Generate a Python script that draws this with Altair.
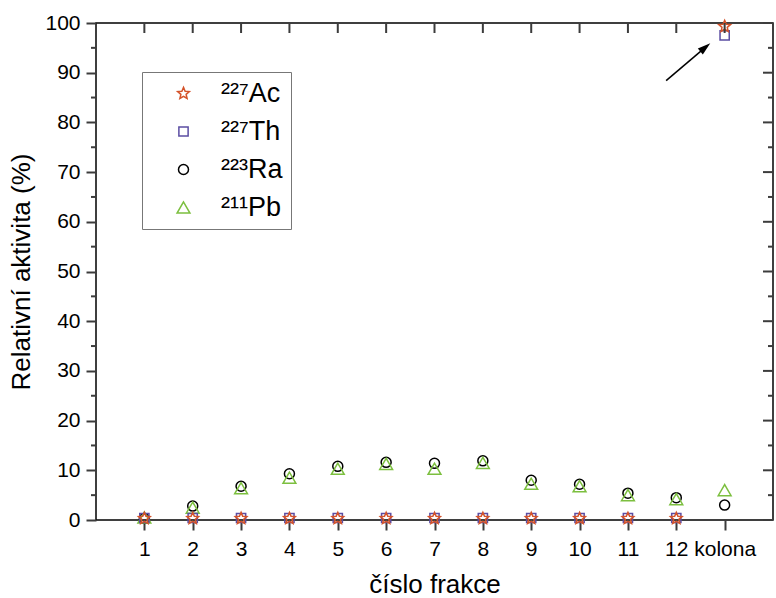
import altair as alt
import pandas as pd

# Fraction index (13 = column "kolona")
fractions = list(range(1, 14))
tick_labels = ["1", "2", "3", "4", "5", "6", "7", "8", "9", "10", "11", "12", "kolona"]

# Relative activity (%) of each nuclide per fraction
ac227 = [0.3, 0.3, 0.3, 0.3, 0.3, 0.3, 0.3, 0.3, 0.3, 0.3, 0.3, 0.3, 99.3]
th227 = [0.4, 0.4, 0.4, 0.4, 0.4, 0.4, 0.4, 0.4, 0.4, 0.4, 0.4, 0.4, 97.5]
ra223 = [0.3, 2.8, 6.8, 9.3, 10.8, 11.6, 11.4, 11.9, 8.0, 7.2, 5.4, 4.5, 3.0]
pb211 = [0.5, 2.5, 6.4, 8.5, 10.3, 11.3, 10.3, 11.5, 7.3, 6.8, 5.0, 4.2, 6.0]

nuclides = ["²²⁷Ac", "²²⁷Th", "²²³Ra", "²¹¹Pb"]
colors = ["#D4532A", "#5B4DA3", "#000000", "#7CBF3F"]
star = ("M0,-1L0.265,-0.364L0.951,-0.309L0.428,0.139L0.588,0.809"
        "L0,0.45L-0.588,0.809L-0.428,0.139L-0.951,-0.309L-0.265,-0.364Z")
shapes = [star, "square", "circle", "triangle-up"]
sizes = [150, 85, 100, 165]

# Arrow pointing at the column values
arrow_start = [11.79, 88.4]
arrow_end = [12.6, 95.1]
arrowhead = "M0,-1L0.6,1L-0.6,1Z"

major_y = list(range(0, 101, 10))
minor_y = list(range(5, 100, 10))

W, H = 677, 497
X_MAX = 14
MAJOR, MINOR = 10, 5
TICK = "#3c3c3c"
TICK_W = 2

series = {"²²³Ra": ra223, "²¹¹Pb": pb211, "²²⁷Th": th227, "²²⁷Ac": ac227}
rows = []
for name, vals in series.items():
    for f, v in zip(fractions, vals):
        rows.append({"frakce": f, "aktivita": v, "nuklid": name})
df = pd.DataFrame(rows)

arrow_df = pd.DataFrame({"x": [arrow_start[0]], "y": [arrow_start[1]],
                         "x2": [arrow_end[0]], "y2": [arrow_end[1]]})

FONT = "Liberation Sans"
xscale = alt.Scale(domain=[0, X_MAX], nice=False, zero=False)
yscale = alt.Scale(domain=[0, 100], nice=False)
label_js = "[" + ",".join("'%s'" % t for t in tick_labels) + "][datum.value - 1]"

legend = alt.Legend(
    title=None, orient="none", legendX=46, legendY=49,
    labelFont=FONT, labelFontSize=27, labelColor="black",
    strokeColor="#777777", fillColor="white", padding=8, rowPadding=10,
    symbolOffset=20, labelOffset=24, symbolStrokeWidth=1.5,
)

shape_enc = alt.Shape("nuklid:N", scale=alt.Scale(domain=nuclides, range=shapes), legend=legend)
color_enc = alt.Color("nuklid:N", scale=alt.Scale(domain=nuclides, range=colors), legend=legend)
size_enc = alt.Size("nuklid:N", scale=alt.Scale(type="ordinal", domain=nuclides, range=sizes),
                    legend=legend)

base = alt.Chart(df).mark_point(filled=False, strokeWidth=1.5, opacity=1)

# Ra and Pb first, Th and Ac drawn on top
ra_pb = base.transform_filter(
    alt.FieldOneOfPredicate(field="nuklid", oneOf=["²²³Ra", "²¹¹Pb"])
).encode(
    x=alt.X("frakce:Q", scale=xscale,
            axis=alt.Axis(values=fractions, labelExpr=label_js, title="číslo frakce",
                          ticks=True, tickSize=MAJOR, tickColor=TICK, tickWidth=TICK_W,
                          labelPadding=8, titlePadding=12)),
    y=alt.Y("aktivita:Q", scale=yscale,
            axis=alt.Axis(values=major_y, ticks=True, tickSize=MAJOR, tickColor=TICK,
                          tickWidth=TICK_W, labelPadding=6, titlePadding=10,
                          title="Relativní aktivita (%)")),
    shape=shape_enc, color=color_enc, size=size_enc,
)

ac_th = base.transform_filter(
    alt.FieldOneOfPredicate(field="nuklid", oneOf=["²²⁷Th", "²²⁷Ac"])
).encode(
    x=alt.X("frakce:Q", scale=xscale, axis=None),
    y=alt.Y("aktivita:Q", scale=yscale, axis=None),
    shape=shape_enc, color=color_enc, size=size_enc,
)

arrow_line = alt.Chart(arrow_df).mark_rule(color="black", strokeWidth=1.5).encode(
    x=alt.X("x:Q", scale=xscale, axis=None),
    y=alt.Y("y:Q", scale=yscale, axis=None),
    x2="x2:Q",
    y2="y2:Q",
)

arrow_head = alt.Chart(arrow_df).mark_point(
    shape=arrowhead, filled=True, color="black", size=169, angle=50, opacity=1
).encode(
    x=alt.X("x2:Q", scale=xscale, axis=None),
    y=alt.Y("y2:Q", scale=yscale, axis=None),
)


# Horizontal tick rules spanning [start, end] in x-data units
def y_ticks(values, start, end):
    tdf = pd.DataFrame({"v": values, "a": [start] * len(values), "b": [end] * len(values)})
    return alt.Chart(tdf).mark_rule(color=TICK, strokeWidth=TICK_W).encode(
        x=alt.X("a:Q", scale=xscale, axis=None), x2="b:Q",
        y=alt.Y("v:Q", scale=yscale, axis=None), y2="v:Q")


px = X_MAX / W  # one pixel in x-data units

# Inward ticks along the top edge
top_ticks = alt.Chart(pd.DataFrame({"v": fractions})).mark_rule(
    color=TICK, strokeWidth=TICK_W
).encode(x=alt.X("v:Q", scale=xscale, axis=None), y=alt.value(0), y2=alt.value(MAJOR))

ticks = [
    y_ticks(minor_y, -MINOR * px, 0),                 # left minor, outward
    y_ticks(major_y, X_MAX - MAJOR * px, X_MAX),      # right major, inward
    y_ticks(minor_y, X_MAX - MINOR * px, X_MAX),      # right minor, inward
    top_ticks,
]

chart = alt.layer(ra_pb, ac_th, arrow_line, arrow_head, *ticks).resolve_axis(
    x="independent", y="independent"
).properties(
    width=W, height=H,
    background="white",
    autosize=alt.AutoSizeParams(type="none"),
    padding={"left": 96, "top": 23, "right": 3, "bottom": 78},
).configure_view(
    stroke="black", strokeWidth=1.5
).configure_axis(
    domain=False, grid=False,
    labelFont=FONT, labelFontSize=21, labelColor="black",
    titleFont=FONT, titleFontSize=26, titleFontWeight="normal", titleColor="black",
)

chart.save("out.html", embed_options={"renderer": "svg", "actions": False})
